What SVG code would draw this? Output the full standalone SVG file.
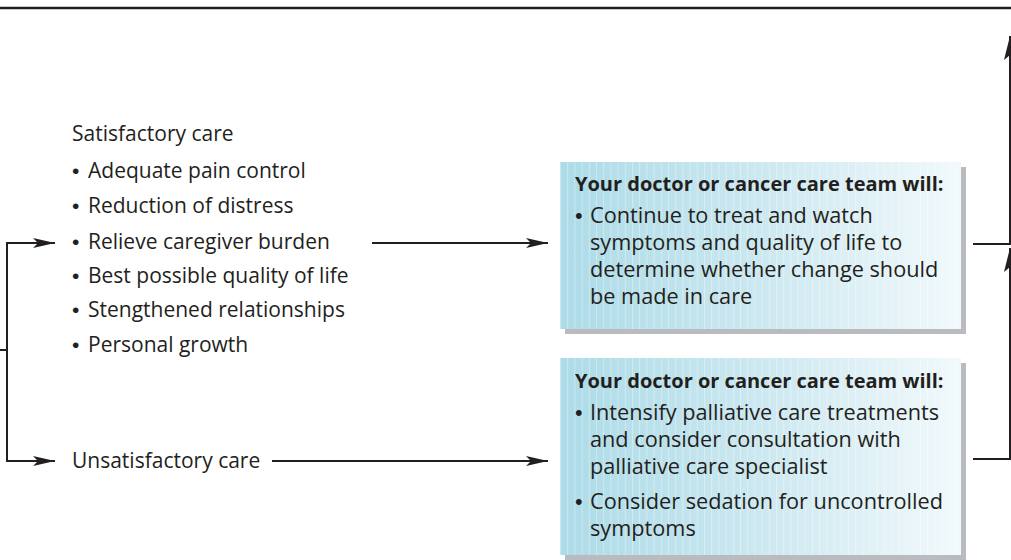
<svg xmlns="http://www.w3.org/2000/svg" width="1011" height="560" viewBox="0 0 1011 560">
<style>
  text { font-family: "Open Sans", "Noto Sans", "Liberation Sans", sans-serif; fill: #231f20; }
  .lt { font-size: 21px; }
  .bx { font-size: 21.7px; }
  .hd { font-size: 20px; font-weight: bold; }
  .b { font-family: "Liberation Sans", sans-serif; }
  .ln { stroke: #231f20; stroke-width: 2; fill: none; }
  .shadow { fill: #b9bbbe; }
</style>
<defs>
  <linearGradient id="grad" x1="0" y1="0" x2="1" y2="0">
    <stop offset="0" stop-color="#acdbe8"/>
    <stop offset="0.5" stop-color="#cce8f0"/>
    <stop offset="1" stop-color="#f1f9fc"/>
  </linearGradient>
  <pattern id="stripes" x="560" y="0" width="7.2" height="10" patternUnits="userSpaceOnUse">
    <rect x="0" y="0" width="1" height="10" fill="#ffffff" fill-opacity="0.35"/>
  </pattern>
  <marker id="ah" viewBox="0 0 22 10" refX="22" refY="5" markerWidth="22" markerHeight="10" markerUnits="userSpaceOnUse" orient="auto">
    <path d="M0,0 L22,5 L0,10 L5,5 Z" fill="#231f20"/>
  </marker>
  <marker id="ahu" viewBox="0 0 24 12" refX="24" refY="6" markerWidth="24" markerHeight="12" markerUnits="userSpaceOnUse" orient="auto">
    <path d="M0,0 L24,6 L0,12 L5,6 Z" fill="#231f20"/>
  </marker>
</defs>
<rect x="0" y="0" width="1011" height="560" fill="#ffffff"/>
<line x1="0" y1="8" x2="1011" y2="8" stroke="#231f20" stroke-width="2.5"/>

<g id="satisfactory">
  <text class="lt" x="72" y="141">Satisfactory care</text>
  <text class="lt" x="72" y="178"><tspan class="b">•</tspan><tspan x="88">Adequate pain control</tspan></text>
  <text class="lt" x="72" y="213"><tspan class="b">•</tspan><tspan x="88">Reduction of distress</tspan></text>
  <text class="lt" x="72" y="249"><tspan class="b">•</tspan><tspan x="88">Relieve caregiver burden</tspan></text>
  <text class="lt" x="72" y="283"><tspan class="b">•</tspan><tspan x="88">Best possible quality of life</tspan></text>
  <text class="lt" x="72" y="317"><tspan class="b">•</tspan><tspan x="88">Stengthened relationships</tspan></text>
  <text class="lt" x="72" y="352"><tspan class="b">•</tspan><tspan x="88">Personal growth</tspan></text>
</g>

<g id="unsatisfactory">
  <text class="lt" x="72" y="468">Unsatisfactory care</text>
</g>

<g id="box1">
  <rect class="shadow" x="565" y="167" width="401" height="167"/>
  <rect x="560" y="162" width="401" height="167" fill="url(#grad)"/>
  <rect x="560" y="162" width="401" height="167" fill="url(#stripes)"/>
  <text class="hd" x="575" y="191">Your doctor or cancer care team will:</text>
  <text class="bx" x="575" y="223"><tspan class="b">•</tspan><tspan x="590">Continue to treat and watch</tspan></text>
  <text class="bx" x="590" y="250">symptoms and quality of life to</text>
  <text class="bx" x="590" y="277">determine whether change should</text>
  <text class="bx" x="590" y="304">be made in care</text>
</g>

<g id="box2">
  <rect class="shadow" x="565" y="363" width="401" height="197"/>
  <rect x="560" y="358" width="401" height="197" fill="url(#grad)"/>
  <rect x="560" y="358" width="401" height="197" fill="url(#stripes)"/>
  <text class="hd" x="575" y="388">Your doctor or cancer care team will:</text>
  <text class="bx" x="575" y="420"><tspan class="b">•</tspan><tspan x="590">Intensify palliative care treatments</tspan></text>
  <text class="bx" x="590" y="447">and consider consultation with</text>
  <text class="bx" x="590" y="474">palliative care specialist</text>
  <text class="bx" x="575" y="509"><tspan class="b">•</tspan><tspan x="590">Consider sedation for uncontrolled</tspan></text>
  <text class="bx" x="590" y="536">symptoms</text>
</g>

<g id="connectors">
  <line class="ln" x1="0" y1="350" x2="7" y2="350"/>
  <line class="ln" x1="7" y1="242" x2="7" y2="462"/>
  <line class="ln" x1="6" y1="243" x2="55" y2="243" marker-end="url(#ah)"/>
  <line class="ln" x1="6" y1="461" x2="55" y2="461" marker-end="url(#ah)"/>
  <line class="ln" x1="372" y1="243" x2="548" y2="243" marker-end="url(#ah)"/>
  <line class="ln" x1="272" y1="461" x2="548" y2="461" marker-end="url(#ah)"/>
  <polyline class="ln" points="973,244 1010,244 1010,36" marker-end="url(#ahu)"/>
  <polyline class="ln" points="973,459 1010,459 1010,248" marker-end="url(#ahu)"/>
</g>
</svg>
